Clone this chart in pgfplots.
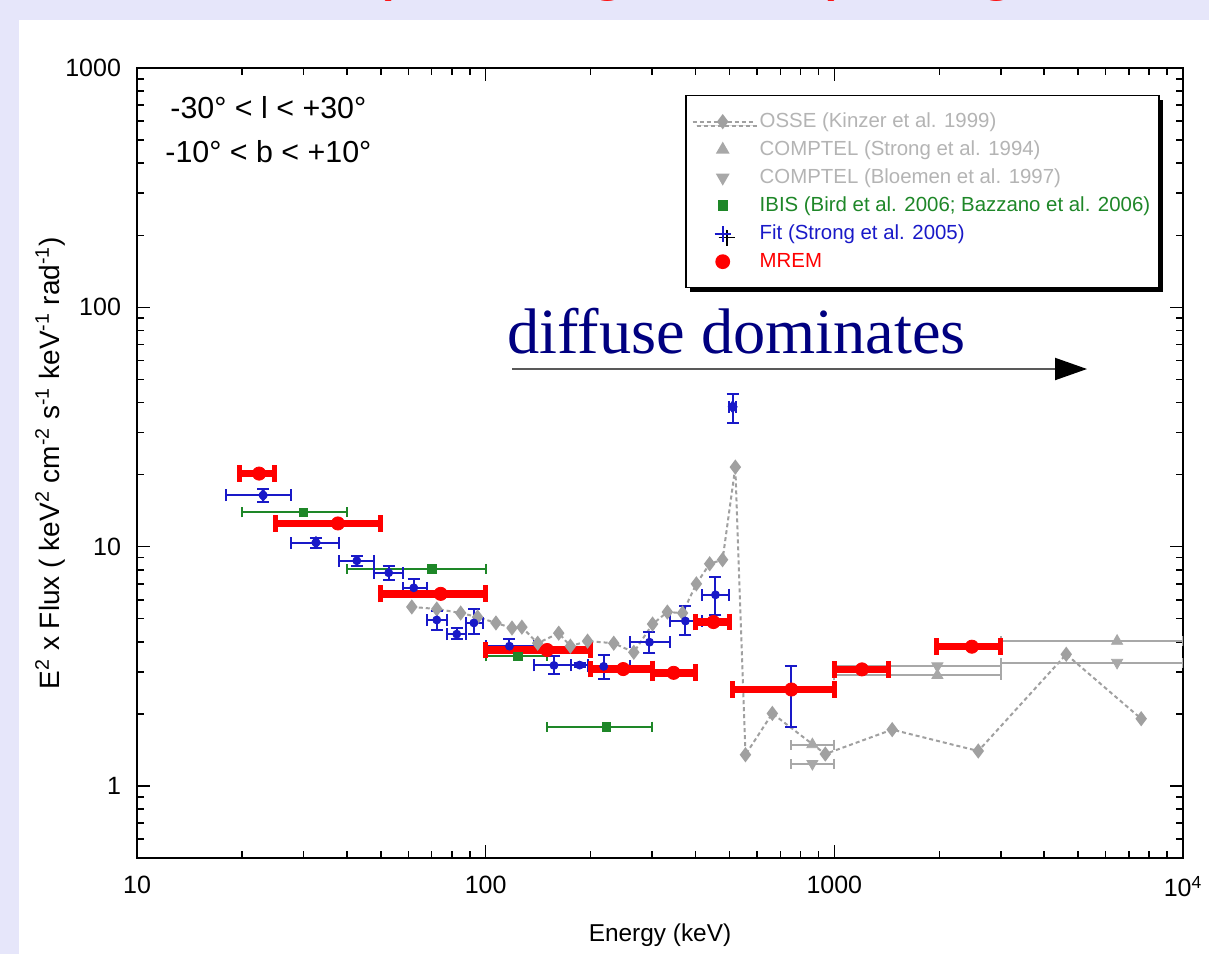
\documentclass[border=0pt]{standalone}
\usepackage{pgfplots}
\pgfplotsset{compat=1.18}
\usepackage{fontspec}
\setmainfont{Liberation Sans}
\newfontfamily\serif{Liberation Serif}
\usetikzlibrary{arrows.meta,shadows}

\definecolor{lavbg}{RGB}{230,230,250}
\definecolor{ossegray}{RGB}{160,160,160}
\definecolor{compgray}{RGB}{168,168,168}
\definecolor{leggray}{RGB}{180,180,180}
\definecolor{ibisgreen}{RGB}{30,135,40}
\definecolor{fitblue}{RGB}{25,25,200}
\definecolor{mremred}{RGB}{255,0,0}
\definecolor{navy}{RGB}{0,0,128}

\begin{document}
\begin{tikzpicture}
% page in image pixels, origin top left
\begin{scope}[x=0.5pt,y=-0.5pt]
  \path[use as bounding box] (0,0) rectangle (1209,954);
  \fill[lavbg] (0,0) rectangle (1209,954);
  \fill[white] (19,20) rectangle (1209,954);
  % descenders of the cut-off slide title
  \node[anchor=base, text=mremred, font=\fontsize{36}{40}\selectfont, inner sep=0pt] at (380,-14) {(};
  \node[anchor=base, text=mremred, font=\fontsize{36}{40}\selectfont, inner sep=0pt] at (609,-14) {g};
  \node[anchor=base, text=mremred, font=\fontsize{36}{40}\selectfont, inner sep=0pt] at (839,-14) {)};
  \node[anchor=base, text=mremred, font=\fontsize{36}{40}\selectfont, inner sep=0pt] at (998,-14) {g};
\end{scope}

\begin{axis}[
  at={(68.5pt,-429pt)}, anchor=south west,
  width=523pt, height=395pt, scale only axis,
  xmode=log, ymode=log,
  xmin=10, xmax=10000, ymin=0.5, ymax=1000,
  xtick={10,100,1000,10000}, xticklabels={10,100,1000,10\textsuperscript{4}},
  ytick={1,10,100,1000}, yticklabels={1,10,100,1000},
  minor xtick={20,30,40,50,60,70,80,90,200,300,400,500,600,700,800,900,2000,3000,4000,5000,6000,7000,8000,9000},
  minor ytick={0.6,0.7,0.8,0.9,2,3,4,5,6,7,8,9,20,30,40,50,60,70,80,90,200,300,400,500,600,700,800,900},
  axis line style={line width=1pt},
  every tick/.style={black, line width=0.8pt},
  major tick length=6.5pt, minor tick length=3.5pt,
  tick label style={font=\fontsize{12.5}{14}\selectfont},
  x tick label style={yshift=-5.5pt},
  y tick label style={xshift=-4.5pt},
  xlabel={Energy (keV)},
  ylabel={E\textsuperscript{2} x Flux ( keV\textsuperscript{2} cm\textsuperscript{-2} s\textsuperscript{-1} keV\textsuperscript{-1} rad\textsuperscript{-1})},
  xlabel style={font=\fontsize{12.2}{14}\selectfont, at={(axis description cs:0.5,-0.0975)}, anchor=center},
  ylabel style={font=\fontsize{14}{16}\selectfont, at={(axis description cs:-0.083,0.5)}, anchor=center},
  legend cell align=left,
  legend style={at={(axis description cs:0.978,0.966)}, anchor=north east,
    draw=black, line width=0.8pt, fill=white,
    drop shadow={shadow xshift=2pt, shadow yshift=-2pt, opacity=1, fill=black},
    font=\fontsize{10.2}{12}\selectfont,
    inner xsep=3pt, inner ysep=6pt, row sep=0pt, column sep=1.5pt,
    nodes={inner sep=1.5pt, text height=8.3pt, text depth=2.7pt}},
  legend image code/.code={\draw[mark repeat=2,mark phase=2,#1] plot coordinates {(0pt,0pt) (15pt,0pt) (30pt,0pt)};},
]

% OSSE
\addplot[color=ossegray, line width=1pt, dash pattern=on 2pt off 1.5pt,
  mark=diamond*, mark size=3pt, mark options={solid, fill=ossegray, draw=ossegray}]
coordinates {
  (61.4,5.60) (72.4,5.49) (84.8,5.28) (94.8,5.08) (107,4.80) (119,4.57) (127,4.61)
  (141,3.95) (162,4.35) (175,3.84) (196,4.03) (233,3.95) (266,3.62) (301,4.75)
  (332,5.33) (367,5.28) (402,6.99) (439,8.48) (478,8.82) (520,21.5) (556,1.35)
  (664,2.01) (942,1.36) (1465,1.72) (2587,1.40) (4624,3.55) (7586,1.91)
};
\addlegendentry{\textcolor{leggray}{OSSE (Kinzer et al. 1999)}}

% COMPTEL (Strong et al. 1994)
\addplot[only marks, color=compgray, mark=triangle*, mark size=3.2pt, mark options={fill=compgray},
  error bars/.cd, x dir=both, x explicit,
  error bar style={line width=1pt, compgray},
  error mark options={rotate=90, line width=1pt, mark size=2.5pt, compgray}]
coordinates {
  (865,1.49) += (135,0) -= (115,0)
  (1975,2.90) += (1025,0) -= (975,0)
  (6470,4.03) += (3530,0) -= (3470,0)
};
\addlegendentry{\textcolor{leggray}{COMPTEL (Strong et al. 1994)}}

% COMPTEL (Bloemen et al. 1997)
\addplot[only marks, color=compgray, mark=triangle*, mark size=3.2pt, mark options={rotate=180, fill=compgray},
  error bars/.cd, x dir=both, x explicit,
  error bar style={line width=1pt, compgray},
  error mark options={rotate=90, line width=1pt, mark size=2.5pt, compgray}]
coordinates {
  (865,1.24) += (135,0) -= (115,0)
  (1975,3.17) += (1025,0) -= (975,0)
  (6470,3.28) += (3530,0) -= (3470,0)
};
\addlegendentry{\textcolor{leggray}{COMPTEL (Bloemen et al. 1997)}}

% IBIS
\addplot[only marks, color=ibisgreen, mark=square*, mark size=2.2pt, mark options={fill=ibisgreen},
  error bars/.cd, x dir=both, x explicit,
  error bar style={line width=1pt, ibisgreen},
  error mark options={rotate=90, line width=1pt, mark size=2.5pt, ibisgreen}]
coordinates {
  (30,13.9) += (10,0) -= (10,0)
  (70,8.08) += (30,0) -= (30,0)
  (124,3.48) += (26,0) -= (24,0)
  (222,1.77) += (78,0) -= (72,0)
};
\addlegendentry{\textcolor{ibisgreen}{IBIS (Bird et al. 2006; Bazzano et al. 2006)}}

% Fit (Strong et al. 2005)
\addplot[only marks, color=fitblue, mark=none, forget plot,
  error bars/.cd, x dir=both, x explicit, y dir=both, y explicit,
  error bar style={line width=1pt, fitblue},
  error mark options={rotate=90, line width=1pt, mark size=3pt, fitblue}]
coordinates {
  (23,16.4) += (4.6,1.0) -= (5,1.0)
  (32.6,10.4) += (5.3,0.5) -= (5,0.5)
  (42.7,8.73) += (5,0.45) -= (4.8,0.4)
  (52.7,7.78) += (5.1,0.5) -= (5,0.5)
  (62.2,6.73) += (5.6,0.6) -= (4.4,0.5)
  (72.4,4.94) += (4.9,0.45) -= (4.6,0.45)
  (82.6,4.31) += (5.1,0.25) -= (5.3,0.2)
  (92.5,4.8) += (5.5,0.7) -= (4.8,0.47)
  (117,3.84) += (21,0.27) -= (17,0.22)
  (157,3.19) += (19,0.29) -= (19,0.26)
  (186,3.2) += (10,0.05) -= (10,0.05)
  (218,3.16) += (41,0.35) -= (22,0.36)
  (295,3.99) += (42,0.4) -= (36,0.4)
  (374,4.89) += (42,0.76) -= (37,0.63)
  (456,6.29) += (44,1.2) -= (40,1.1)
  (511,38.4) += (11,5) -= (11,5.5)
  (750,2.51) += (250,0.65) -= (240,0.74)
};
\addplot[only marks, color=fitblue, mark=diamond*, mark size=3pt, forget plot]
coordinates {(23,16.4) (32.6,10.4) (511,38.4)};
\addlegendimage{legend image code/.code={\draw[fitblue, line width=1pt] (15pt,-4pt) -- (15pt,4pt) (11pt,0pt) -- (19pt,0pt);}}
\addlegendentry{\textcolor{fitblue}{Fit (Strong et al. 2005)}}

% MREM
\addplot[only marks, color=mremred, mark=*, mark size=3.3pt, mark options={fill=mremred},
  error bars/.cd, x dir=both, x explicit,
  error bar style={line width=3.8pt, mremred},
  error mark options={rotate=90, line width=2.5pt, mark size=4.2pt, mremred}]
coordinates {
  (22.4,20.2) += (2.4,0) -= (2.7,0)
  (37.7,12.5) += (12.3,0) -= (12.7,0)
  (74.3,6.35) += (25.7,0) -= (24.3,0)
  (150,3.7) += (50,0) -= (50,0)
  (248,3.08) += (52,0) -= (48,0)
  (346,2.97) += (54,0) -= (46,0)
  (450,4.84) += (50,0) -= (50,0)
  (753,2.53) += (247,0) -= (243,0)
  (1200,3.07) += (230,0) -= (200,0)
  (2480,3.82) += (520,0) -= (520,0)
};
\addlegendentry{\textcolor{mremred}{MREM}}
\end{axis}

\begin{scope}[x=0.5pt,y=-0.5pt]
  \node[anchor=base west, inner sep=0pt, font=\fontsize{15.2}{17}\selectfont] at (170,118) {-30° < l < +30°};
  \node[anchor=base west, inner sep=0pt, font=\fontsize{15.2}{17}\selectfont] at (165,162) {-10° < b < +10°};
  \node[anchor=base west, inner sep=0pt, text=navy, font=\serif\fontsize{32.2}{36}\selectfont] at (507,353) {diffuse dominates};
  \draw[line width=1pt, black!65, -{Triangle[length=16pt,width=11pt,black]}] (512,369) -- (1087,369);
\end{scope}
\end{tikzpicture}
\end{document}
